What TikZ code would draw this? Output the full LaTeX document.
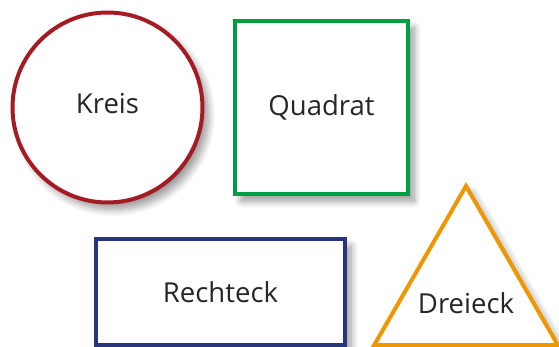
\documentclass[tikz,border=0pt]{standalone}
\usepackage{fontspec}
\setmainfont{Open Sans}
\usetikzlibrary{shapes.geometric,shadows.blur}
\definecolor{kreisrot}{RGB}{165,27,36}
\definecolor{quadratgruen}{RGB}{0,158,68}
\definecolor{rechteckblau}{RGB}{40,52,128}
\definecolor{dreieckorange}{RGB}{241,150,0}

\begin{document}
\begin{tikzpicture}[x=1pt,y=-1pt,
  form/.style={draw,line width=4pt,fill=white,inner sep=0pt,
    font=\fontsize{27.5}{32}\selectfont,text=black!85,
    blur shadow={shadow xshift=6pt,shadow yshift=-7pt,shadow blur radius=7pt,shadow blur steps=10,shadow opacity=40}},
  lbl/.style={font=\fontsize{27.5}{32}\selectfont,text=black!85}]
  \useasboundingbox (0,0) rectangle (559,347);
  \node[form,circle,draw=kreisrot,minimum size=190pt] (kreis) at (107.5,107.5) {};
  \node[lbl] at ([yshift=4pt]kreis.center) {Kreis};
  \node[form,rectangle,draw=quadratgruen,minimum width=173pt,minimum height=173pt] (quadrat) at (321.5,107.5) {Quadrat};
  \node[form,rectangle,draw=rechteckblau,minimum width=249pt,minimum height=106pt] (rechteck) at (220.5,292) {Rechteck};
  \node[form,regular polygon,regular polygon sides=3,draw=dreieckorange,minimum size=212pt] (dreieck) at (466,292) {};
  \node[lbl] at ([yshift=-11pt]dreieck.center) {Dreieck};
\end{tikzpicture}
\end{document}
